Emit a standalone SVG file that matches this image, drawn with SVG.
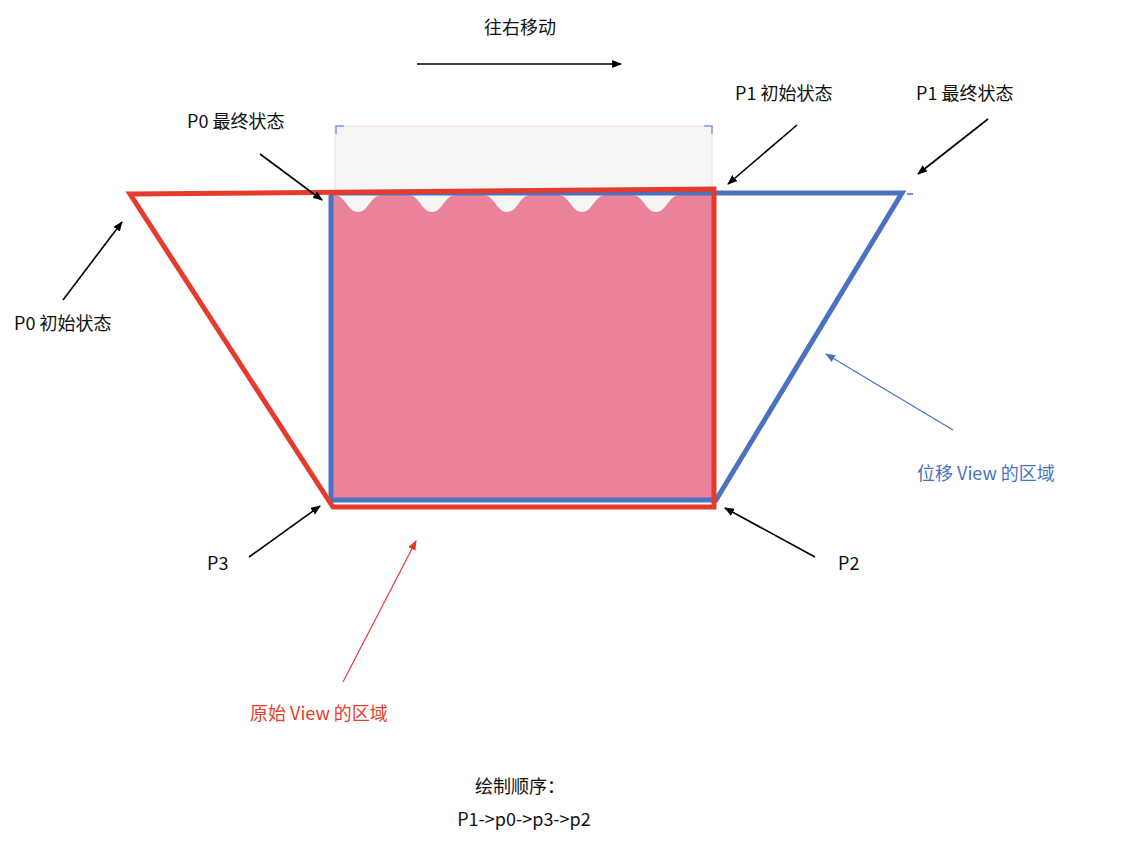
<svg xmlns="http://www.w3.org/2000/svg" width="1124" height="862" viewBox="0 0 1124 862">
<style>
text{font-family:"Noto Sans CJK SC","Liberation Sans",sans-serif;font-size:18px;fill:#111}
.blk{stroke:#000;stroke-width:1.6;fill:none;marker-end:url(#ab)}
</style>
<defs>
<marker id="ab" markerWidth="10" markerHeight="8" refX="9" refY="4" orient="auto" markerUnits="userSpaceOnUse"><path d="M0,0L10,4L0,8z" fill="#000"/></marker>
<marker id="ar" markerWidth="10" markerHeight="8" refX="9" refY="4" orient="auto" markerUnits="userSpaceOnUse"><path d="M0,0L10,4L0,8z" fill="#e53b2c"/></marker>
<marker id="abl" markerWidth="10" markerHeight="8" refX="9" refY="4" orient="auto" markerUnits="userSpaceOnUse"><path d="M0,0L10,4L0,8z" fill="#4a72c0"/></marker>
</defs>
<rect width="1124" height="862" fill="#fff"/>
<g id="view">
<rect x="335" y="126" width="377" height="66" fill="#f5f5f5" stroke="#f5dede" stroke-width="1"/>
<path d="M336,134V126H344M704,126H712V134" stroke="#7d9ee0" stroke-width="1.5" fill="none"/>
<rect x="333" y="191" width="380" height="311" fill="#ea8399"/>
<g fill="#f5f5f5">
<path d="M333,191H713V195H680C668,195 667,212 656,212C645,212 644,195 632,195H606C594,195 593,212 582,212C571,212 570,195 558,195H531C519,195 518,212 507,212C496,212 495,195 483,195H456C444,195 443,212 432,212C421,212 420,195 408,195H382C370,195 369,212 358,212C347,212 346,195 334,195Z"/>
</g>
</g>
<g id="blue">
<path d="M331,195V500H716L902,193H330" fill="none" stroke="#4a72c0" stroke-width="5" stroke-linejoin="miter"/>
<line x1="907" y1="194" x2="913" y2="194" stroke="#4a72c0" stroke-width="1.5"/>
</g>
<g id="red">
<path d="M130,194L714,189V507H333Z" fill="none" stroke="#e53b2c" stroke-width="5" stroke-linejoin="miter"/>
</g>
<g id="connectors">
<line x1="417" y1="64" x2="621" y2="64" class="blk"/>
<line x1="260" y1="154" x2="322" y2="200" class="blk"/>
<line x1="797" y1="125" x2="728" y2="184" class="blk"/>
<line x1="988" y1="119" x2="918" y2="174" class="blk"/>
<line x1="63" y1="300" x2="122" y2="222" class="blk"/>
<line x1="249" y1="557" x2="320" y2="506" class="blk"/>
<line x1="815" y1="557" x2="725" y2="508" class="blk"/>
<line x1="343" y1="682" x2="416" y2="541" stroke="#e53b2c" stroke-width="1.2" marker-end="url(#ar)"/>
<line x1="953" y1="430" x2="826" y2="354" stroke="#4a72c0" stroke-width="1.2" marker-end="url(#abl)"/>
</g>
<g id="labels">
<text x="520" y="34" text-anchor="middle">往右移动</text>
<text x="187" y="128">P0 最终状态</text>
<text x="735" y="100">P1 初始状态</text>
<text x="916" y="100">P1 最终状态</text>
<text x="14" y="330">P0 初始状态</text>
<text x="207" y="570">P3</text>
<text x="838" y="570">P2</text>
<text x="917" y="480" style="fill:#4a72c0">位移 View 的区域</text>
<text x="250" y="720" style="fill:#e53b2c">原始 View 的区域</text>
<text x="520" y="793" text-anchor="middle">绘制顺序：</text>
<text x="524" y="826" text-anchor="middle">P1-&gt;p0-&gt;p3-&gt;p2</text>
</g>
</svg>
